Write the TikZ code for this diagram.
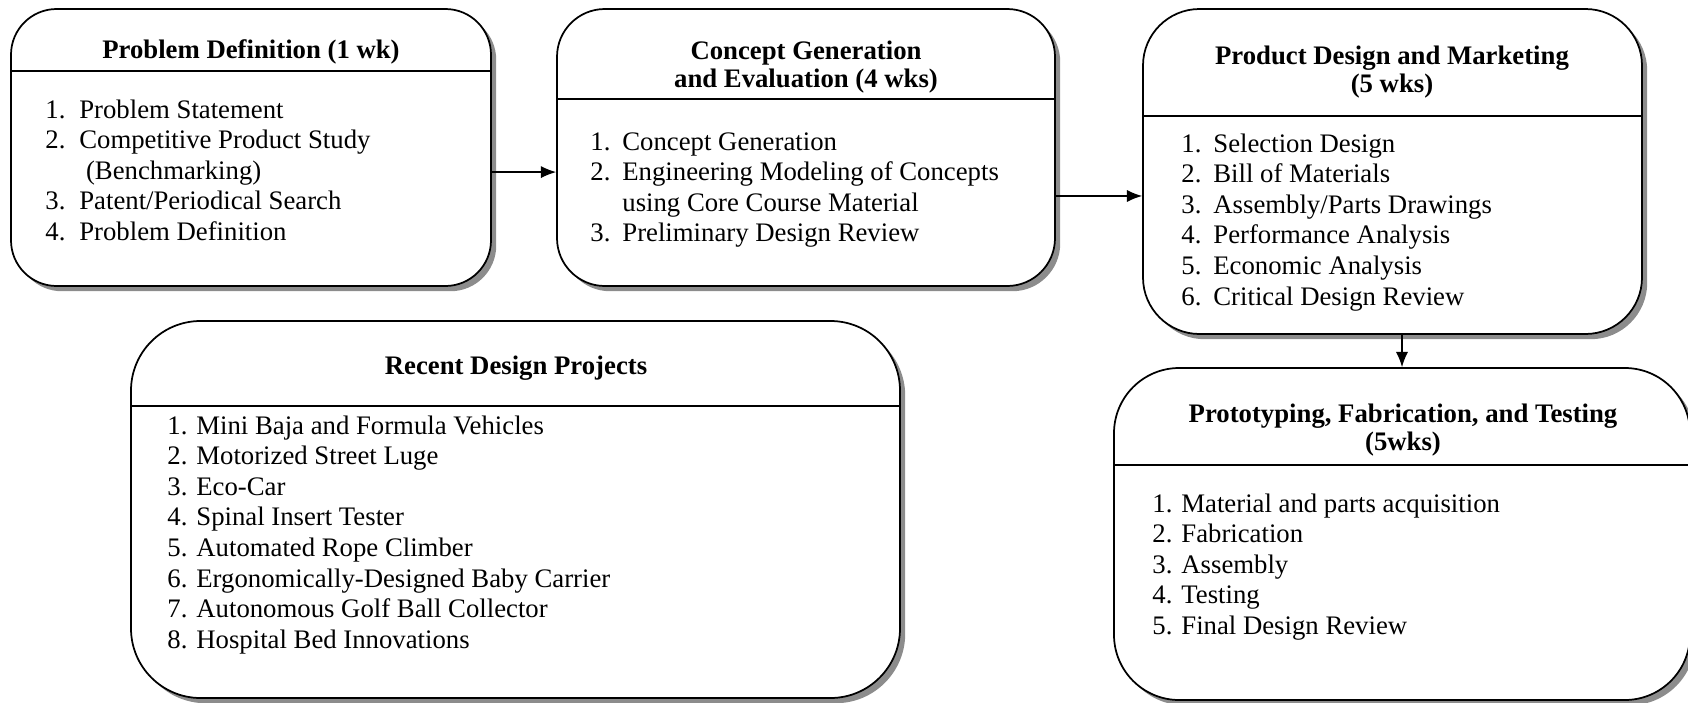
\documentclass[tikz,border=0pt]{standalone}
\usepackage{fontspec}
\setmainfont{Liberation Serif}
\usetikzlibrary{shadows,arrows.meta,fit}

\tikzset{
    stage/.style={draw, line width=0.8pt, fill=white, inner sep=0pt,
        drop shadow={shadow xshift=2.4pt, shadow yshift=-2.4pt, fill=black!45, opacity=1}},
    divider/.style={line width=0.7pt},
    title/.style={anchor=base, inner sep=0pt, font=\fontsize{12.3}{12.9}\selectfont\bfseries},
    items/.style={anchor=base west, inner sep=0pt},
    flow/.style={line width=0.6pt, -{Latex[length=7pt,width=5.6pt]}}
}

\begin{document}
\begin{tikzpicture}[x=0.46pt,y=-0.46pt,font=\fontsize{12.3}{14.1}\selectfont]
        \useasboundingbox (0,0) rectangle (1688,702);
        %% Stage boxes
        \node[stage,rounded corners=21pt,fit={(11,9) (491,286)}] (probdef) {};
        \node[stage,rounded corners=22pt,fit={(557,9) (1055,286)}] (concept) {};
        \node[stage,rounded corners=26pt,fit={(1143,9) (1642,334)}] (product) {};
        \node[stage,rounded corners=30pt,fit={(1114,368) (1690,700)}] (proto) {};
        \node[stage,rounded corners=32pt,fit={(131,321) (900,698)}] (recent) {};
        %% Dividers under the titles
        \draw[divider] (probdef.west |- 0,71) -- (probdef.east |- 0,71);
        \draw[divider] (concept.west |- 0,99) -- (concept.east |- 0,99);
        \draw[divider] (product.west |- 0,116) -- (product.east |- 0,116);
        \draw[divider] (proto.west |- 0,465) -- (proto.east |- 0,465);
        \draw[divider] (recent.west |- 0,406) -- (recent.east |- 0,406);
        %% Titles
        \node[title] (probdef-t) at (251,58) {Problem Definition (1 wk)};
        \node[title] (concept-t) at (806,59) {\begin{tabular}[t]{@{}c@{}}Concept Generation\\and Evaluation (4 wks)\end{tabular}};
        \node[title] (product-t) at (1392,64) {\begin{tabular}[t]{@{}c@{}}Product Design and Marketing\\(5 wks)\end{tabular}};
        \node[title] (proto-t) at (1403,422) {\begin{tabular}[t]{@{}c@{}}Prototyping, Fabrication, and Testing\\(5wks)\end{tabular}};
        \node[title] (recent-t) at (516,374) {Recent Design Projects};
        %% Item lists
        \node[items] (probdef-l) at (45,118) {\begin{tabular}[t]{@{}p{15.6pt}@{}l@{}}
            1. & Problem Statement\\
            2. & Competitive Product Study\\
               & \ (Benchmarking)\\
            3. & Patent/Periodical Search\\
            4. & Problem Definition\end{tabular}};
        \node[items] (concept-l) at (590,150) {\begin{tabular}[t]{@{}p{14.7pt}@{}l@{}}
            1. & Concept Generation\\
            2. & Engineering Modeling of Concepts\\
               & using Core Course Material\\
            3. & Preliminary Design Review\end{tabular}};
        \node[items] (product-l) at (1181,152) {\begin{tabular}[t]{@{}p{14.7pt}@{}l@{}}
            1. & Selection Design\\
            2. & Bill of Materials\\
            3. & Assembly/Parts Drawings\\
            4. & Performance Analysis\\
            5. & Economic Analysis\\
            6. & Critical Design Review\end{tabular}};
        \node[items] (proto-l) at (1152,512) {\begin{tabular}[t]{@{}l@{}}
            1. Material and parts acquisition\\
            2. Fabrication\\
            3. Assembly\\
            4. Testing\\
            5. Final Design Review\end{tabular}};
        \node[items] (recent-l) at (167,434) {\begin{tabular}[t]{@{}l@{}}
            1. Mini Baja and Formula Vehicles\\
            2. Motorized Street Luge\\
            3. Eco-Car\\
            4. Spinal Insert Tester\\
            5. Automated Rope Climber\\
            6. Ergonomically-Designed Baby Carrier\\
            7. Autonomous Golf Ball Collector\\
            8. Hospital Bed Innovations\end{tabular}};
        %% Flow between stages
        \draw[flow] ([yshift=-11.3pt]probdef.east) -- ([yshift=-11.3pt]concept.west);
        \draw[flow] ([yshift=-22.3pt]concept.east) -- ([yshift=-22.3pt]concept.east -| product.west);
        \draw[flow] (product.south -| proto.north) -- (proto.north);
    \end{tikzpicture}
\end{document}
